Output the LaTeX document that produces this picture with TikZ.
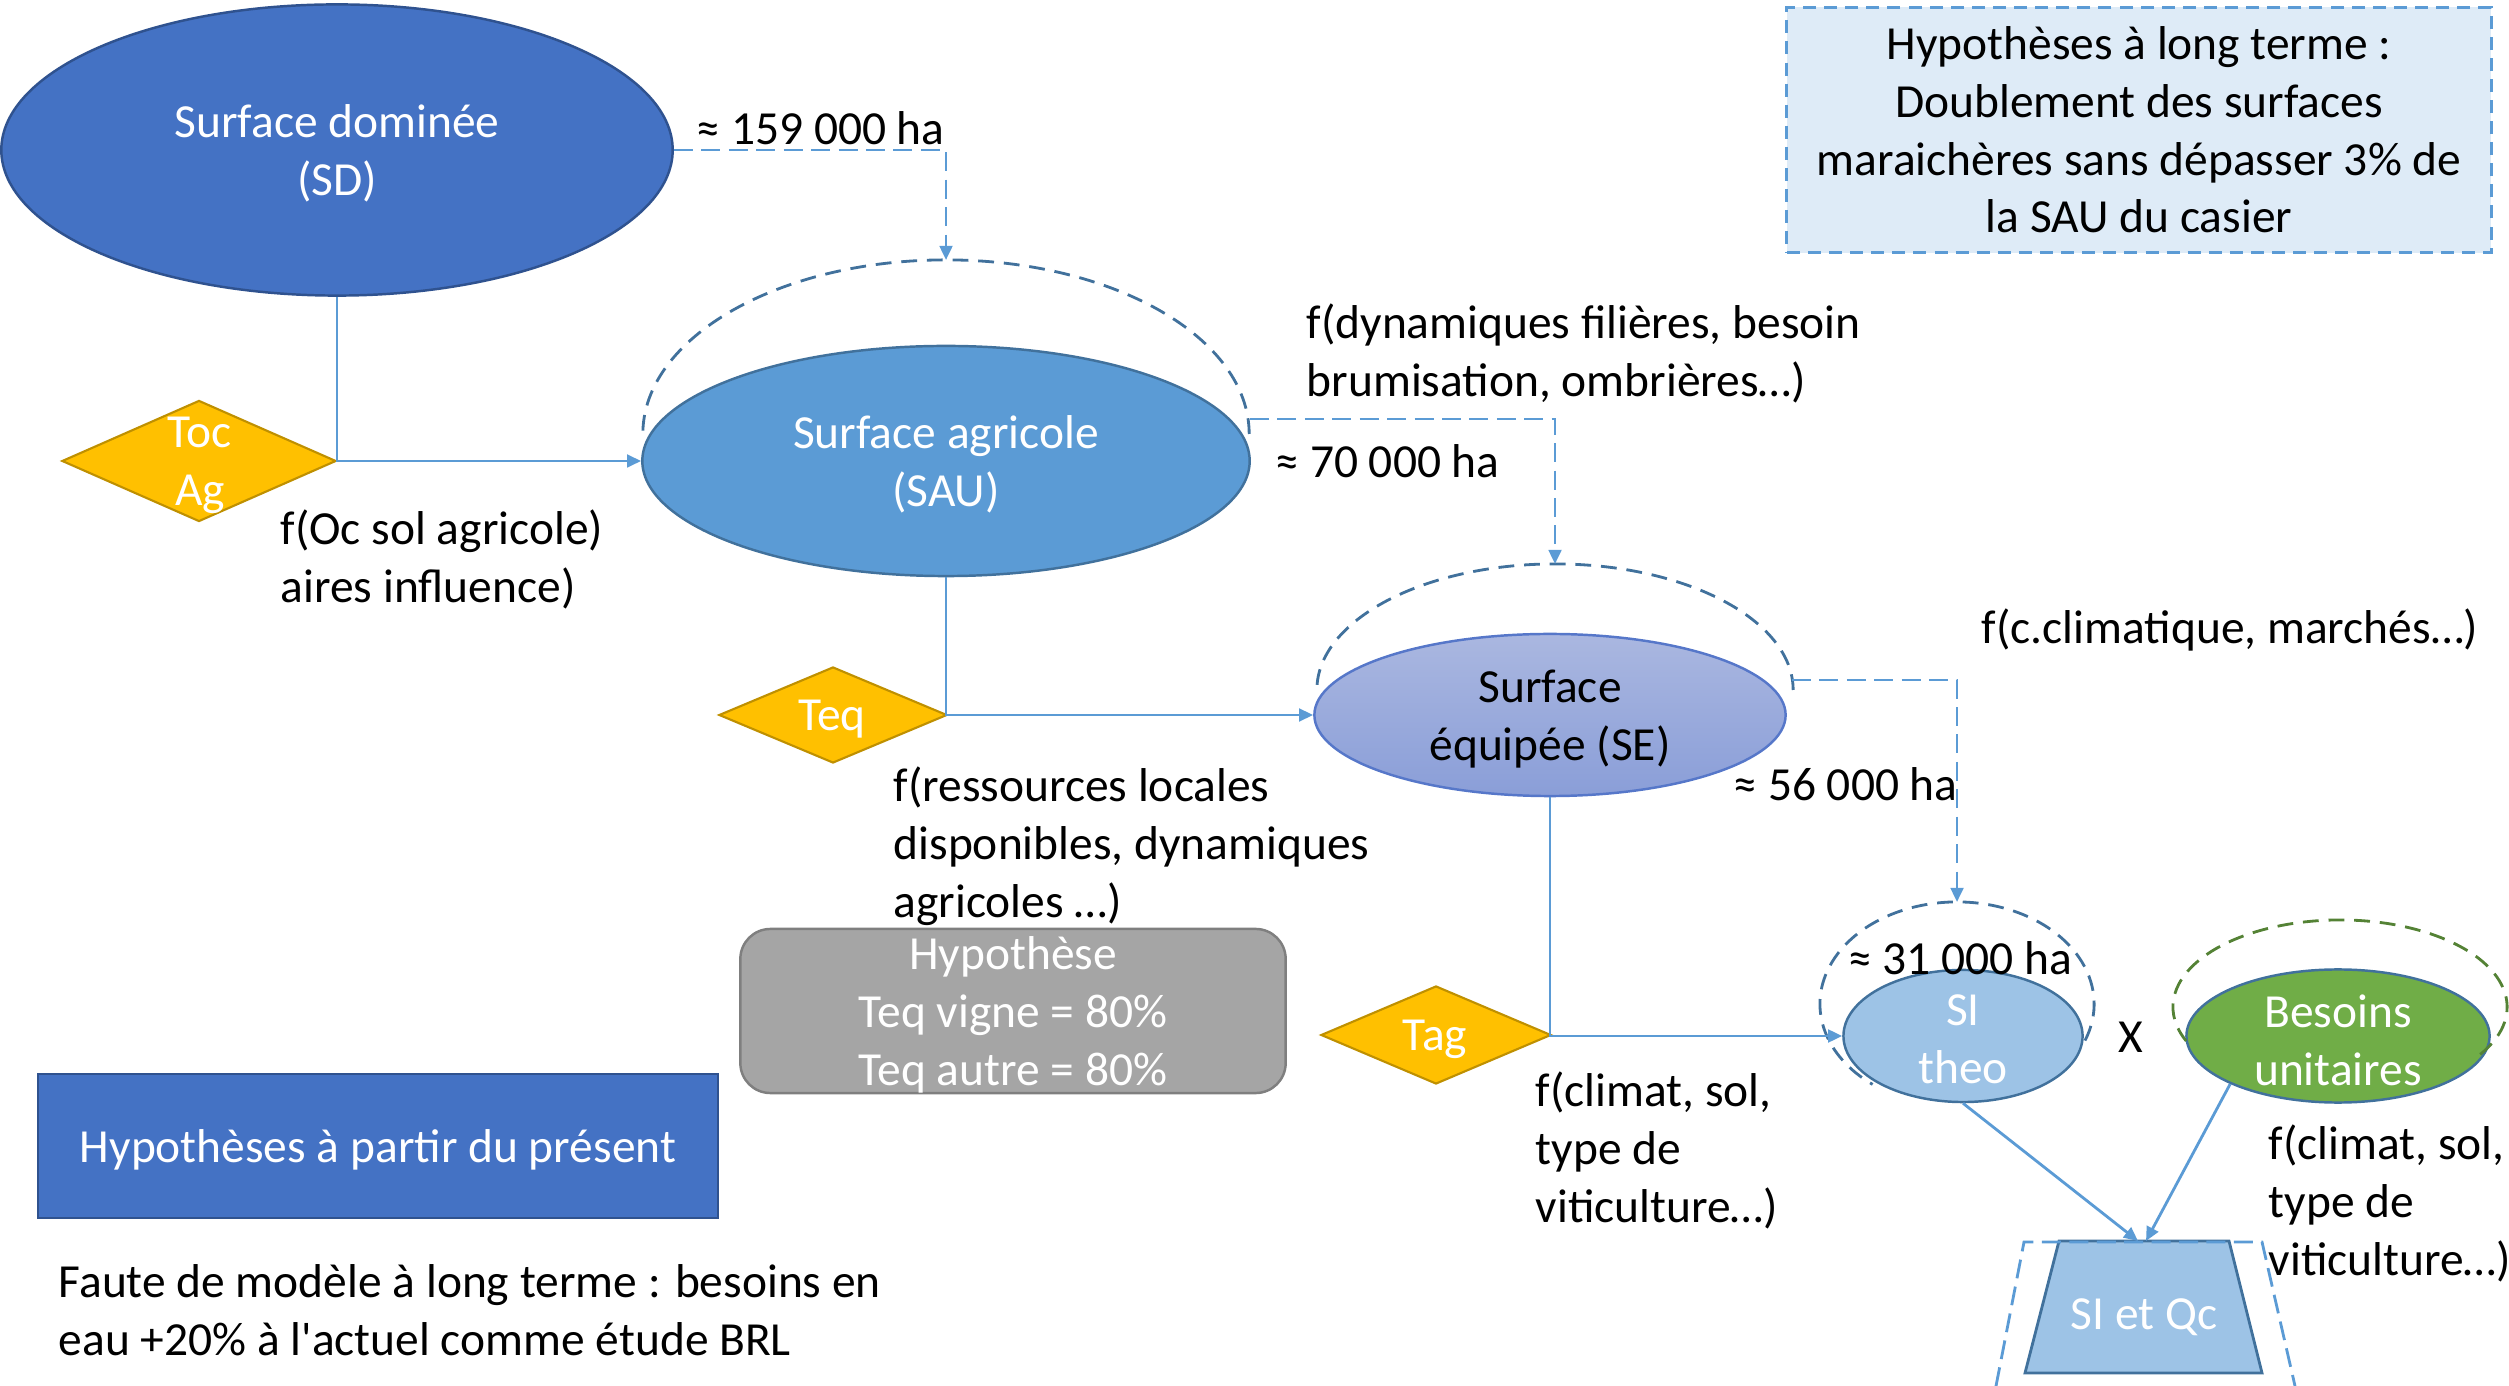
\documentclass[tikz,border=0pt]{standalone}
\usepackage{fontspec}
\setmainfont{Carlito}[Ligatures=TeXOff]
\usetikzlibrary{shapes.geometric,arrows.meta,calc}
\definecolor{sdblue}{HTML}{4472C4}
\definecolor{sdborder}{HTML}{2F528F}
\definecolor{saublue}{HTML}{5B9BD5}
\definecolor{haloblue}{HTML}{41719C}
\definecolor{lblue}{HTML}{5B9BD5}
\definecolor{setopc}{HTML}{AAB7E0}
\definecolor{sebotc}{HTML}{8A9ED8}
\definecolor{seborder}{HTML}{5677C9}
\definecolor{siblue}{HTML}{9DC3E6}
\definecolor{besgreen}{HTML}{70AD47}
\definecolor{halogreen}{HTML}{548235}
\definecolor{diamfill}{HTML}{FFC000}
\definecolor{diamborder}{HTML}{BF9000}
\definecolor{greyfill}{HTML}{A5A5A5}
\definecolor{greyborder}{HTML}{7F7F7F}
\definecolor{hypfill}{HTML}{DEEBF7}
\begin{document}
\begin{tikzpicture}[x=0.01cm,y=0.01cm,
  txt/.style={font=\fontsize{13.5pt}{16.4pt}\selectfont, inner sep=0pt, align=center, text depth=0pt},
  wtxt/.style={txt,text=white},
  ltxt/.style={txt,align=left,anchor=west},
  conn/.style={draw=lblue,line width=0.8pt},
  arr/.style={-{Triangle[length=4pt,width=3.6pt]}},
  dconn/.style={conn,dash pattern=on 5.4pt off 2.4pt},
  halo/.style={draw=haloblue,line width=0.8pt,dash pattern=on 4.5pt off 2.8pt},
  diam/.style={diamond,draw=diamborder,fill=diamfill,line width=0.6pt,inner sep=0pt},
  ell/.style={ellipse,line width=0.7pt,inner sep=0pt},
]
\path[use as bounding box] (0,0) rectangle (2509,-1386);

% main ellipses
\node[ell,draw=sdborder,fill=sdblue,minimum width=6.71cm,minimum height=2.91cm,wtxt] (SD) at (337,-150) {Surface dominée\\(SD)};
\node[ell,draw=haloblue,fill=saublue,minimum width=6.07cm,minimum height=2.30cm,wtxt] (SAU) at (946,-461) {Surface agricole\\(SAU)};
\node[ell,draw=seborder,top color=setopc,bottom color=sebotc,minimum width=4.71cm,minimum height=1.62cm,txt] (SE) at (1550,-715) {Surface\\équipée (SE)};
\node[ell,draw=haloblue,fill=siblue,minimum width=2.39cm,minimum height=1.32cm] (SI) at (1963,-1036) {};
\node[wtxt] (SItxt) at (1963,-1039) {SI\\theo};
\node[ell,draw=haloblue,fill=besgreen,minimum width=3.03cm,minimum height=1.33cm] (BES) at (2338,-1036) {};
\node[wtxt] (BEStxt) at (2338,-1040) {Besoins\\unitaires};

% diamonds
\node[diam,minimum width=2.74cm,minimum height=1.21cm] (TOC) at (199,-461) {};
\node[wtxt] (TOCtxt) at (200,-461) {Toc\\Ag};
\node[diam,minimum width=2.28cm,minimum height=0.96cm] (TEQ) at (833,-715) {};
\node[wtxt] (TEQtxt) at (832,-715) {Teq};
\node[diam,minimum width=2.30cm,minimum height=0.98cm] (TAG) at (1436,-1035) {};
\node[wtxt] (TAGtxt) at (1435,-1035) {Tag};

% boxes
\node[rectangle,rounded corners=0.3cm,draw=greyborder,fill=greyfill,line width=0.7pt,minimum width=5.45cm,minimum height=1.64cm,wtxt] (GREY) at (1013,-1011) {Hypothèse\\Teq vigne = 80\%\\Teq autre = 80\%};
\node[rectangle,draw=sdborder,fill=sdblue,line width=0.7pt,minimum width=6.80cm,minimum height=1.44cm,wtxt] (BLUE) at (378,-1146) {Hypothèses à partir du présent};
\node[rectangle,draw=lblue,fill=hypfill,line width=0.8pt,dash pattern=on 3.7pt off 2.3pt,minimum width=7.04cm,minimum height=2.45cm,txt] (LT) at (2139,-130) {Hypothèses à long terme :\\Doublement des surfaces\\maraichères sans dépasser 3\% de\\la SAU du casier};

% dashed halos
\draw[halo] (946,-434) ++(0:3.03cm and 1.74cm) arc[start angle=0,end angle=180,x radius=3.03cm,y radius=1.74cm];
\draw[halo] (1555,-690) ++(0:2.38cm and 1.26cm) arc[start angle=0,end angle=180,x radius=2.38cm,y radius=1.26cm];
\draw[halo] (1957,-1004) ++(-21:1.37cm and 1.02cm) arc[start angle=-21,end angle=232,x radius=1.37cm,y radius=1.02cm];
\draw[halo,draw=halogreen] (2340,-1007) ++(-33:1.67cm and 0.87cm) arc[start angle=-33,end angle=203,x radius=1.67cm,y radius=0.87cm];

% named points
\coordinate (sautop) at (946,-260);
\coordinate (saur) at (1250,-419);
\coordinate (setop) at (1555,-564);
\coordinate (ser) at (1792,-680);
\coordinate (sitop) at (1957,-902);
\coordinate (qctop) at (2143,-1241);

% SI et Qc trapezoid
\filldraw[fill=siblue,draw=haloblue,line width=0.8pt] (2059,-1241) -- (2229,-1241) -- (2262,-1373) -- (2025,-1373) -- cycle;
\node[wtxt] (QC) at (2144,-1314) {SI et Qc};
\draw[dconn] (1996,-1386) -- (2024,-1242) -- (2262,-1242) -- (2295,-1386);

% connectors
\draw[conn,arr] (SD.south) |- (SAU.west);
\draw[conn,arr] (SAU.south) |- (SE.west);
\draw[conn,arr] (SE.south) |- (SI.west);
\draw[dconn,arr] (SD.east) -| (sautop);
\draw[dconn,arr] (saur) -| (setop);
\draw[dconn,arr] (ser) -| (sitop);
\draw[conn,arr] (SI.south) -- ($(qctop)+(-5,0)$);
\draw[conn,arr] (BES.204) -- ($(qctop)+(3,0)$);

% labels
\node[ltxt] (L159) at (696,-128) {≈ 159 000 ha};
\node[ltxt] (LOC) at (280,-556) {f(Oc sol agricole)\\aires influence)};
\node[ltxt] (LDYN) at (1306,-350) {f(dynamiques filières, besoin\\brumisation, ombrières…)};
\node[ltxt] (L70) at (1275,-461) {≈ 70 000 ha};
\node[ltxt] (LRES) at (893,-842) {f(ressources locales\\disponibles, dynamiques\\agricoles …)};
\node[ltxt] (LCLI) at (1981,-626) {f(c.climatique, marchés…)};
\node[ltxt] (L56) at (1733,-784) {≈ 56 000 ha};
\node[txt] (L31) at (1960,-958) {≈ 31 000 ha};
\node[txt] (LX) at (2131,-1037) {X};
\node[ltxt] (LTAG) at (1535,-1147) {f(climat, sol,\\type de\\viticulture…)};
\node[ltxt] (LBES) at (2268,-1200) {f(climat, sol,\\type de\\viticulture…)};
\node[ltxt] (LFAUTE) at (58,-1310) {Faute de modèle à long terme : besoins en\\eau +20\% à l'actuel comme étude BRL};
\end{tikzpicture}
\end{document}
